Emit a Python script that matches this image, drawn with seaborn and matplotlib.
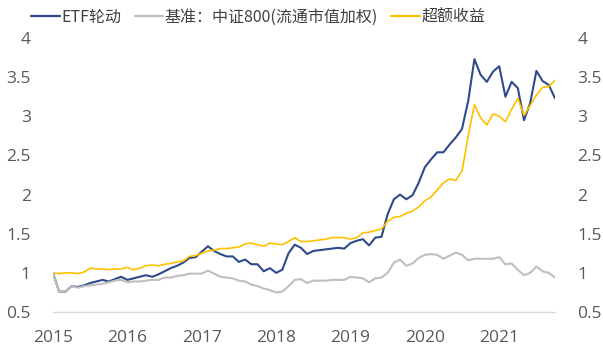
import matplotlib
matplotlib.use("Agg")
import matplotlib.pyplot as plt
import numpy as np
import pandas as pd
import seaborn as sns

# monthly net values, Jan 2015 .. Oct 2021
etf_rotation = [
    1.00, 0.76, 0.76, 0.83, 0.82, 0.84, 0.87, 0.89, 0.91, 0.89, 0.92, 0.95,
    0.91, 0.93, 0.95, 0.97, 0.95, 0.98, 1.02, 1.06, 1.09, 1.13, 1.19, 1.20,
    1.27, 1.34, 1.28, 1.24, 1.21, 1.21, 1.14, 1.17, 1.11, 1.11, 1.02, 1.06,
    1.00, 1.04, 1.25, 1.36, 1.32, 1.24, 1.28, 1.29, 1.30, 1.31, 1.32, 1.31,
    1.38, 1.41, 1.43, 1.35, 1.45, 1.46, 1.75, 1.94, 2.00, 1.94, 1.99, 2.15,
    2.35, 2.45, 2.54, 2.54, 2.64, 2.73, 2.84, 3.20, 3.73, 3.53, 3.44, 3.57,
    3.64, 3.25, 3.44, 3.36, 2.95, 3.17, 3.58, 3.45, 3.40, 3.23,
]
benchmark = [
    1.00, 0.76, 0.76, 0.83, 0.81, 0.83, 0.84, 0.85, 0.86, 0.88, 0.90, 0.91,
    0.88, 0.89, 0.89, 0.90, 0.91, 0.91, 0.94, 0.94, 0.96, 0.97, 0.99, 0.99,
    0.99, 1.03, 0.99, 0.95, 0.94, 0.93, 0.90, 0.89, 0.85, 0.83, 0.80, 0.78,
    0.75, 0.76, 0.83, 0.91, 0.92, 0.87, 0.90, 0.90, 0.90, 0.91, 0.91, 0.91,
    0.95, 0.94, 0.93, 0.88, 0.93, 0.94, 1.00, 1.13, 1.17, 1.09, 1.12, 1.19,
    1.23, 1.24, 1.23, 1.18, 1.22, 1.26, 1.23, 1.16, 1.18, 1.18, 1.18, 1.18,
    1.20, 1.11, 1.12, 1.04, 0.97, 1.00, 1.08, 1.02, 1.00, 0.94,
]
excess = [
    1.00, 0.99, 1.00, 1.00, 0.99, 1.01, 1.06, 1.05, 1.05, 1.04, 1.05, 1.05,
    1.07, 1.04, 1.06, 1.09, 1.10, 1.09, 1.11, 1.12, 1.14, 1.15, 1.21, 1.22,
    1.25, 1.28, 1.29, 1.31, 1.31, 1.32, 1.33, 1.37, 1.38, 1.36, 1.34, 1.38,
    1.37, 1.36, 1.40, 1.45, 1.40, 1.40, 1.41, 1.42, 1.43, 1.45, 1.45, 1.45,
    1.43, 1.45, 1.51, 1.52, 1.54, 1.56, 1.66, 1.71, 1.72, 1.76, 1.79, 1.84,
    1.92, 1.97, 2.06, 2.15, 2.20, 2.18, 2.30, 2.75, 3.15, 2.98, 2.89, 3.03,
    3.00, 2.93, 3.09, 3.23, 3.01, 3.14, 3.27, 3.37, 3.38, 3.46,
]
year_labels = ["2015", "2016", "2017", "2018", "2019", "2020", "2021"]
y_ticks = [0.5, 1, 1.5, 2, 2.5, 3, 3.5, 4]

series_names = ["ETF轮动", "基准：中证800(流通市值加权)", "超额收益"]
palette = {series_names[0]: "#2F4A8A", series_names[1]: "#BFBFBF", series_names[2]: "#FFC000"}

months = np.arange(len(etf_rotation))
df = pd.DataFrame({"month": months, series_names[0]: etf_rotation,
                   series_names[1]: benchmark, series_names[2]: excess})
long_df = df.melt(id_vars="month", var_name="series", value_name="value")

sns.set_style("white")
plt.rcParams['font.family'] = ['Open Sans', 'Noto Sans CJK SC', 'DejaVu Sans']

fig = plt.figure(figsize=(6.03, 3.51), dpi=100)
ax = fig.add_axes([53 / 603, 39 / 351, 502 / 603, 274 / 351])

widths = {series_names[0]: 1.5, series_names[1]: 1.5, series_names[2]: 1.2}
for name in [series_names[0], series_names[2], series_names[1]]:
    sub = long_df[long_df["series"] == name]
    sns.lineplot(data=sub, x="month", y="value", ax=ax, color=palette[name],
                 linewidth=widths[name], label=name, legend=False)

ax.set_xlim(0, len(etf_rotation) - 1)
ax.set_ylim(0.5, 4)
ax.set_xticks(np.arange(len(year_labels)) * 12)
ax.set_xticklabels(year_labels)
ax.set_yticks(y_ticks)
ax.set_yticklabels([f"{v:g}" for v in y_ticks])
ax.set_xlabel("")
ax.set_ylabel("")
ax.grid(False)

tick_color = "#595959"
for side in ["top", "left", "right"]:
    ax.spines[side].set_visible(False)
ax.spines["bottom"].set_color("#D9D9D9")
ax.spines["bottom"].set_linewidth(1.0)
ax.tick_params(axis="x", length=0, pad=13, labelsize=12.5, colors=tick_color)
ax.tick_params(axis="y", length=0, pad=16, labelsize=12.5, colors=tick_color)

ax2 = ax.twinx()
ax2.set_ylim(0.5, 4)
ax2.set_yticks(y_ticks)
ax2.set_yticklabels([f"{v:g}" for v in y_ticks])
for side in ["top", "left", "right", "bottom"]:
    ax2.spines[side].set_visible(False)
ax2.tick_params(axis="y", length=0, pad=16, labelsize=12.5, colors=tick_color)

handles = [plt.Line2D([0], [0], color=palette[n], linewidth=1.6) for n in series_names]
leg = fig.legend(handles, series_names, loc="center left", bbox_to_anchor=(17 / 603, 1 - 17 / 351),
                 ncol=3, frameon=False, handlelength=1.8, handletextpad=0.1, columnspacing=0.8,
                 prop={"family": ["Noto Sans CJK SC", "DejaVu Sans"], "size": 11.5})
for t in leg.get_texts():
    t.set_color("#404040")

fig.savefig("out.png", dpi=100)
